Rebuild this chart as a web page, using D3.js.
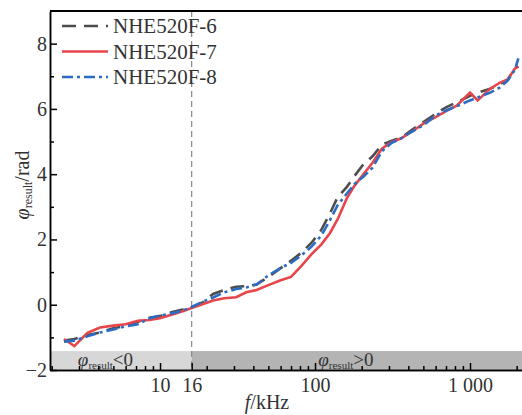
<!DOCTYPE html>
<html>
<head>
<meta charset="utf-8">
<script src="https://cdn.jsdelivr.net/npm/d3@7"></script>
<style>
  body { margin: 0; background: #fff; }
  svg text { font-family: "Liberation Serif", "Times New Roman", serif; fill: #333; }
</style>
</head>
<body>
<div id="chart"></div>
<script>
/* phase vs frequency, three samples */
const freq = [2.4, 2.8, 3.4, 4.1, 5, 6, 7.2, 8.5, 10, 12, 14, 16, 19, 22, 26, 31, 36, 42, 50, 60, 70, 82, 95,
  110, 125, 140, 160, 180, 205, 235, 270, 310, 360, 420, 500, 600, 700, 820, 1000, 1120, 1350, 1550, 1750, 1950, 2050];

const nhe6 = [-1.1, -1.05, -0.93, -0.85, -0.72, -0.65, -0.52, -0.4, -0.35, -0.22, -0.15, -0.08, 0.08, 0.33, 0.45, 0.55, 0.57, 0.62, 0.85, 1.12, 1.35, 1.6, 1.9,
  2.3, 2.8, 3.3, 3.6, 3.95, 4.3, 4.55, 4.9, 5.02, 5.12, 5.35, 5.6, 5.85, 6.05, 6.2, 6.4, 6.5, 6.62, 6.75, 6.9, 7.24, 7.3];

const nhe7 = [-1.05, -1.27, -0.86, -0.7, -0.64, -0.6, -0.49, -0.47, -0.41, -0.3, -0.2, -0.1, 0.02, 0.13, 0.2, 0.23, 0.38, 0.45, 0.6, 0.75, 0.85, 1.2, 1.55,
  1.85, 2.2, 2.62, 3.25, 3.65, 4.0, 4.35, 4.78, 4.97, 5.1, 5.3, 5.55, 5.75, 5.93, 6.1, 6.5, 6.26, 6.62, 6.8, 6.9, 7.24, 7.3];

const nhe8 = [-1.13, -1.1, -0.97, -0.85, -0.76, -0.66, -0.6, -0.42, -0.33, -0.26, -0.18, -0.07, 0.1, 0.22, 0.38, 0.48, 0.53, 0.62, 0.9, 1.13, 1.28, 1.52, 1.78,
  2.12, 2.6, 3.05, 3.4, 3.7, 3.92, 4.2, 4.7, 4.95, 5.1, 5.3, 5.5, 5.8, 5.95, 6.08, 6.26, 6.35, 6.5, 6.65, 6.87, 7.2, 7.55];

const seriesNames = ["NHE520F-6", "NHE520F-7", "NHE520F-8"];
const seriesColors = ["#4d4d4d", "#e8454b", "#2b6cc4"];
const seriesDash = ["14,8", null, "11,4,3,4"];

const xMajor = [10, 16, 100, 1000];
const xMinor = [2, 3, 4, 5, 6, 7, 8, 9, 20, 30, 40, 50, 60, 70, 80, 90, 200, 300, 400, 500, 600, 700, 800, 900, 2000];
const yMajor = [-2, 0, 2, 4, 6, 8];
const yMinor = [-1, 1, 3, 5, 7];
const splitFreq = 16;
const bandTop = -1.42;

const width = 522, height = 415,
    margin = ({ top: 11, right: 0, bottom: 45, left: 50 });

const svg = d3.select("#chart")
    .append("svg")
    .attr("width", width)
    .attr("height", height);

let x = d3.scaleLog()
    .domain([1.95, 2165])
    .range([margin.left, width - margin.right]);

let y = d3.scaleLinear()
    .domain([-2, 9])
    .range([height - margin.bottom, margin.top]);

/* shaded bands at bottom */
svg.append("rect")
    .attr("x", x(1.95)).attr("y", y(bandTop))
    .attr("width", x(splitFreq) - x(1.95))
    .attr("height", y(-2) - y(bandTop))
    .attr("fill", "#d7d7d7");
svg.append("rect")
    .attr("x", x(splitFreq)).attr("y", y(bandTop))
    .attr("width", x(2165) - x(splitFreq))
    .attr("height", y(-2) - y(bandTop))
    .attr("fill", "#b4b4b4");

/* band labels */
function phiLabel(xPos, sign) {
  let t = svg.append("text")
      .attr("x", xPos).attr("y", y(-2) - 4)
      .attr("font-size", 19);
  t.append("tspan").attr("font-style", "italic").text("φ");
  t.append("tspan").attr("font-size", 11).attr("dy", 3).text("result");
  t.append("tspan").attr("dy", -3).text(sign + "0");
}
phiLabel(x(2.95), "<");
phiLabel(x(105), ">");

/* dashed line at 16 kHz */
svg.append("line")
    .attr("x1", x(splitFreq)).attr("x2", x(splitFreq))
    .attr("y1", margin.top).attr("y2", y(-2))
    .attr("stroke", "#888")
    .attr("stroke-width", 1.2)
    .attr("stroke-dasharray", "6,4");

/* axes */
svg.append("g")
    .attr("transform", `translate(0,${y(-2)})`)
    .call(d3.axisBottom(x).tickValues(xMinor).tickSize(-4).tickSizeOuter(0).tickFormat(""))
    .call(g => g.selectAll("line,path").attr("stroke", "#000").attr("stroke-width", 1.5));

svg.append("g")
    .attr("transform", `translate(0,${y(-2)})`)
    .call(d3.axisBottom(x).tickValues(xMajor).tickSize(-7).tickSizeOuter(0).tickPadding(8)
        .tickFormat(d => d === 1000 ? "1 000" : d))
    .call(g => g.selectAll("line,path").attr("stroke", "#000").attr("stroke-width", 1.5))
    .call(g => g.selectAll("text").attr("font-size", 20).attr("fill", "#333")
        .style("font-family", "Liberation Serif"));

svg.append("g")
    .attr("transform", `translate(${margin.left},0)`)
    .call(d3.axisLeft(y).tickValues(yMinor).tickSize(-4).tickSizeOuter(0).tickFormat(""))
    .call(g => g.selectAll("line,path").attr("stroke", "#000").attr("stroke-width", 1.5));

svg.append("g")
    .attr("transform", `translate(${margin.left},0)`)
    .call(d3.axisLeft(y).tickValues(yMajor).tickSize(-7).tickSizeOuter(0).tickPadding(3))
    .call(g => g.selectAll("line,path").attr("stroke", "#000").attr("stroke-width", 1.5))
    .call(g => g.selectAll("text").attr("font-size", 20).attr("fill", "#333")
        .style("font-family", "Liberation Serif"));

/* top frame line */
svg.append("line")
    .attr("x1", margin.left).attr("x2", width)
    .attr("y1", margin.top).attr("y2", margin.top)
    .attr("stroke", "#000").attr("stroke-width", 1.8);

/* axis titles */
let xt = svg.append("text")
    .attr("x", 267).attr("y", 409)
    .attr("text-anchor", "middle")
    .attr("font-size", 20);
xt.append("tspan").attr("font-style", "italic").text("f");
xt.append("tspan").text("/kHz");

let yt = svg.append("text")
    .attr("transform", "translate(29,185) rotate(-90)")
    .attr("text-anchor", "middle")
    .attr("font-size", 20);
yt.append("tspan").attr("font-style", "italic").text("φ");
yt.append("tspan").attr("font-size", 12).attr("dy", 3).text("result");
yt.append("tspan").attr("dy", -3).text("/rad");

/* lines */
let line = d3.line()
    .x((d, i) => x(freq[i]))
    .y(d => y(d));

[nhe6, nhe7, nhe8].forEach((vals, k) => {
  svg.append("path")
      .datum(vals)
      .attr("d", line)
      .attr("fill", "none")
      .attr("stroke", seriesColors[k])
      .attr("stroke-width", 2.6)
      .attr("stroke-dasharray", seriesDash[k]);
});

/* legend */
const legend = svg.append("g").attr("transform", "translate(62,26)");
seriesNames.forEach((name, k) => {
  legend.append("line")
      .attr("x1", 0).attr("x2", 46)
      .attr("y1", k * 25.5).attr("y2", k * 25.5)
      .attr("stroke", seriesColors[k])
      .attr("stroke-width", 2.6)
      .attr("stroke-dasharray", seriesDash[k]);
  legend.append("text")
      .attr("x", 51).attr("y", k * 25.5 + 7)
      .attr("font-size", 21)
      .text(name);
});
</script>
</body>
</html>
